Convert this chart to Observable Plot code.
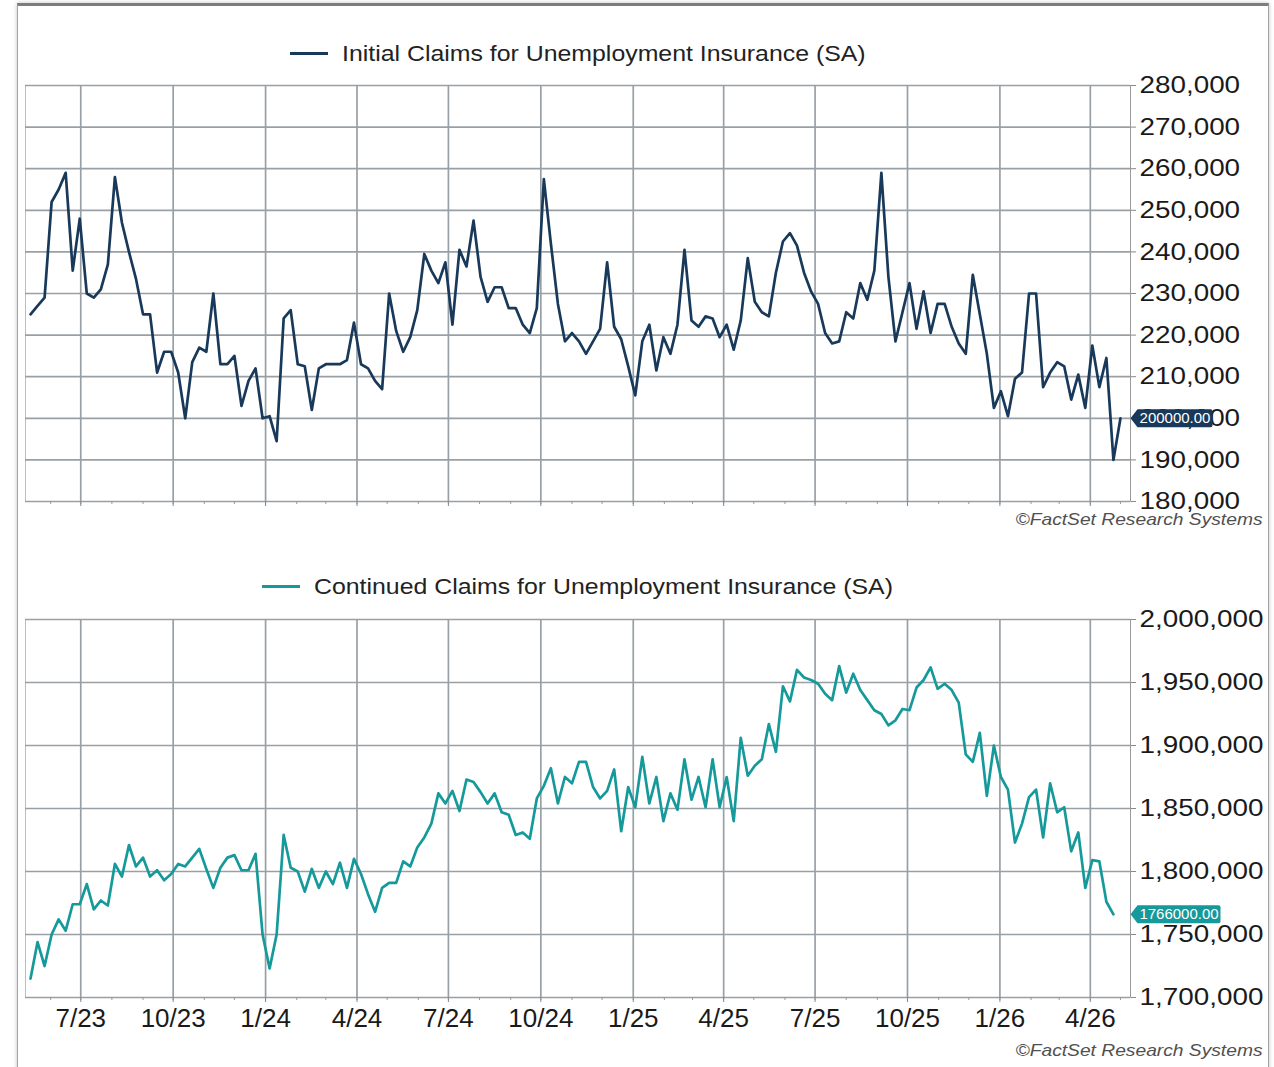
<!DOCTYPE html>
<html><head><meta charset="utf-8">
<script src="https://cdn.jsdelivr.net/npm/d3@7"></script>
<script src="https://cdn.jsdelivr.net/npm/@observablehq/plot@0.6"></script>
<style>
html,body{margin:0;padding:0;background:#fff;}
#root{position:relative;width:1274px;height:1067px;overflow:hidden;font-family:"Liberation Sans",Arial,sans-serif;}
#card{position:absolute;left:17px;top:3px;width:1250px;height:1090px;border-top:3px solid #7d7d7d;border-left:1px solid #a5a5a5;border-right:1px solid #a5a5a5;box-shadow:0 0 4px rgba(0,0,0,0.25);}
.swatch{position:absolute;height:3px;}
.ltext{position:absolute;font-size:22px;color:#222;white-space:nowrap;transform:scaleX(1.13);transform-origin:left center;line-height:1;}
.caption{position:absolute;right:12px;font-size:17px;font-style:italic;color:#505050;transform:scaleX(1.13);transform-origin:right center;white-space:nowrap;line-height:1;}
.chart{position:absolute;left:0;}
</style></head><body><div id="root"><div id="card"></div></div>
<script>
// ---------------- DATA ----------------
const seriesNames = ["Initial Claims for Unemployment Insurance (SA)", "Continued Claims for Unemployment Insurance (SA)"];
const firstWeek = "2023-05-12"; // first weekly observation

const initialClaims = [
  225000,227000,229000,252000,255000,259000,235500,248000,230000,229000,
  231000,237000,258000,247000,240000,233500,225000,225000,211000,216000,
  216000,211000,200000,213500,217000,216000,230000,213000,213000,215000,
  203000,209000,212000,200000,200500,194500,224000,226000,213000,212500,
  202000,212000,213000,213000,213000,214000,223000,213000,212000,209000,
  207000,230000,221000,216000,219500,226000,239500,235500,232500,237500,
  222500,240500,236500,247500,234000,228000,231500,231500,226500,226500,
  222500,220500,226500,257500,242000,227500,218500,220500,218500,215500,
  218500,221500,237500,222000,219000,212500,205500,218500,222500,211500,
  219500,215500,222500,240500,223500,222000,224500,224000,219500,222500,
  216500,223500,238500,228000,225500,224500,235000,242500,244500,241500,
  235000,230500,227500,220500,218000,218500,225500,224000,232500,228500,
  235500,259000,234000,218500,225500,232500,221500,230500,220500,227500,
  227500,222000,218000,215500,234500,225000,215500,202500,206500,200500,
  209500,211000,230000,230000,207500,211000,213500,212500,204500,210500,
  202500,217500,207500,214500,190000,200000
];

const continuedClaims = [
  1715000,1744000,1725000,1750000,1762000,1753000,1774000,1774000,1790000,1770000,
  1777000,1773000,1806000,1796000,1821000,1804000,1811000,1796000,1801000,1793000,
  1798000,1806000,1804000,1811000,1818000,1802000,1787000,1803000,1811000,1813000,
  1801000,1801000,1814000,1750000,1723000,1750000,1829000,1803000,1800000,1784000,
  1802000,1787000,1800000,1790000,1807000,1787000,1810000,1798000,1782000,1768000,
  1787000,1791000,1791000,1808000,1804000,1819000,1827000,1838000,1862000,1854000,
  1864000,1848000,1873000,1871000,1863000,1854000,1862000,1847000,1845000,1829000,
  1831000,1826000,1858000,1868000,1882000,1854000,1875000,1870000,1887000,1887000,
  1867000,1858000,1864000,1881000,1832000,1867000,1851000,1891000,1854000,1875000,
  1840000,1862000,1849000,1889000,1857000,1875000,1851000,1889000,1851000,1875000,
  1840000,1906000,1876000,1884000,1889000,1917000,1895000,1947000,1935000,1960000,
  1954000,1952000,1949000,1941000,1936000,1963000,1942000,1957000,1944000,1936000,
  1928000,1925000,1916000,1920000,1929000,1928000,1946000,1952000,1962000,1945000,
  1949000,1944000,1934000,1893000,1887000,1910000,1860000,1900000,1875000,1865000,
  1823000,1838000,1859000,1865000,1827000,1870000,1847000,1851000,1816000,1831000,
  1787000,1809000,1808000,1776000,1766000
];

const initialTicks = [180000,190000,200000,210000,220000,230000,240000,250000,260000,270000,280000];
const continuedTicks = [1700000,1750000,1800000,1850000,1900000,1950000,2000000];
const xDomain = ["2023-05-07", "2026-05-11"];
const caption = "©FactSet Research Systems";

// ---------------- STYLE ----------------
const navy = "#18395a";
const teal = "#16999a";
const gridColor = "#98a0a6";
const frameColor = "#b8bec3";

// ---------------- BUILD ----------------
const start = new Date(firstWeek);
const weekDates = d3.range(initialClaims.length).map(i => d3.utcDay.offset(start, 7 * i));
const rowsInitial = initialClaims.map((v, i) => ({date: weekDates[i], value: v}));
const rowsContinued = continuedClaims.map((v, i) => ({date: weekDates[i], value: v}));
const xd = xDomain.map(s => new Date(s));
const quarterTicks = d3.utcMonth.every(3).range(xd[0], xd[1]);
const monthTicks = d3.utcMonth.range(xd[0], xd[1]);
const fmtQ = d => `${d.getUTCMonth() + 1}/${String(d.getUTCFullYear()).slice(2)}`;

const tag = (w) => ({draw(ctx) { const h = 9, p = 7;
  ctx.moveTo(0, 0); ctx.lineTo(p, -h); ctx.lineTo(w - 2, -h); ctx.quadraticCurveTo(w, -h, w, -h + 2);
  ctx.lineTo(w, h - 2); ctx.quadraticCurveTo(w, h, w - 2, h); ctx.lineTo(p, h); ctx.closePath(); }});

function panel({rows, ticks, domain, color, height, marginTop, marginBottom, xLabels, tagW}) {
  const last = rows[rows.length - 1].value;
  const marks = [
    Plot.frame({stroke: frameColor}),
    Plot.gridY(ticks, {stroke: gridColor, strokeOpacity: 1, strokeWidth: 1.7}),
    Plot.gridX(quarterTicks, {stroke: gridColor, strokeOpacity: 1, strokeWidth: 1.7}),
    Plot.axisX(monthTicks, {tickSize: 3, tickFormat: () => "", stroke: "#9a9a9a", label: null}),
    xLabels
      ? Plot.axisX(quarterTicks, {tickSize: 5, tickPadding: 6, tickFormat: fmtQ, fontSize: 26, stroke: "#888", color: "#1a1a1a", label: null})
      : Plot.axisX(quarterTicks, {tickSize: 5, tickFormat: () => "", stroke: "#888", label: null}),
    Plot.axisY(ticks, {anchor: "right", tickSize: 5, tickPadding: 4, tickFormat: d3.format(","), fontSize: 24, stroke: "#888", color: "#1a1a1a", label: null}),
    Plot.ruleX([xd[1]], {stroke: "#9a9a9a"}),
    Plot.line(rows, {x: "date", y: "value", stroke: color, strokeWidth: 2.7}),
    Plot.dot([last], {y: d => d, frameAnchor: "right", symbol: tag(tagW), fill: color, stroke: "none", r: 5}),
    Plot.text([last], {y: d => d, frameAnchor: "right", textAnchor: "middle", dx: 7 + (tagW - 7) / 2, text: d => d.toFixed(2), fill: "white", fontSize: 15})
  ];
  return Plot.plot({
    width: 1274, height, marginTop, marginBottom, marginLeft: 25, marginRight: 144,
    x: {type: "utc", domain: xd, label: null},
    y: {domain, label: null},
    style: {fontFamily: "'Liberation Sans', Arial, sans-serif", background: "transparent", overflow: "visible", color: "#1a1a1a"},
    marks
  });
}

const root = document.getElementById("root");
function addDiv(cls, css, html) { const d = document.createElement("div"); d.className = cls; Object.assign(d.style, css); if (html != null) d.textContent = html; root.appendChild(d); return d; }

// Legends
addDiv("swatch", {left: "290px", top: "52px", width: "38px", background: navy});
addDiv("ltext", {left: "342px", top: "43px"}, seriesNames[0]);
addDiv("swatch", {left: "262px", top: "585px", width: "38px", background: teal});
addDiv("ltext", {left: "314px", top: "576px"}, seriesNames[1]);

// Charts
const c1 = panel({rows: rowsInitial, ticks: initialTicks, domain: [180000, 280000], color: navy, height: 530, marginTop: 85, marginBottom: 29, xLabels: false, tagW: 82});
const w1 = addDiv("chart", {top: "0px"}); w1.appendChild(c1);
const c2 = panel({rows: rowsContinued, ticks: continuedTicks, domain: [1700000, 2000000], color: teal, height: 527, marginTop: 79, marginBottom: 70, xLabels: true, tagW: 90});
const w2 = addDiv("chart", {top: "540px"}); w2.appendChild(c2);

// Captions
addDiv("caption", {top: "511px"}, caption);
addDiv("caption", {top: "1042px"}, caption);

// Slightly widen the y tick labels to match the reference's wide numerals
for (const svg of [c1, c2]) {
  d3.select(svg).selectAll('[aria-label="y-axis tick label"] text').each(function() {
    const L = this.getComputedTextLength();
    this.setAttribute("textLength", (L * 1.16).toFixed(1));
    this.setAttribute("lengthAdjust", "spacingAndGlyphs");
  });
}
</script></body></html>
